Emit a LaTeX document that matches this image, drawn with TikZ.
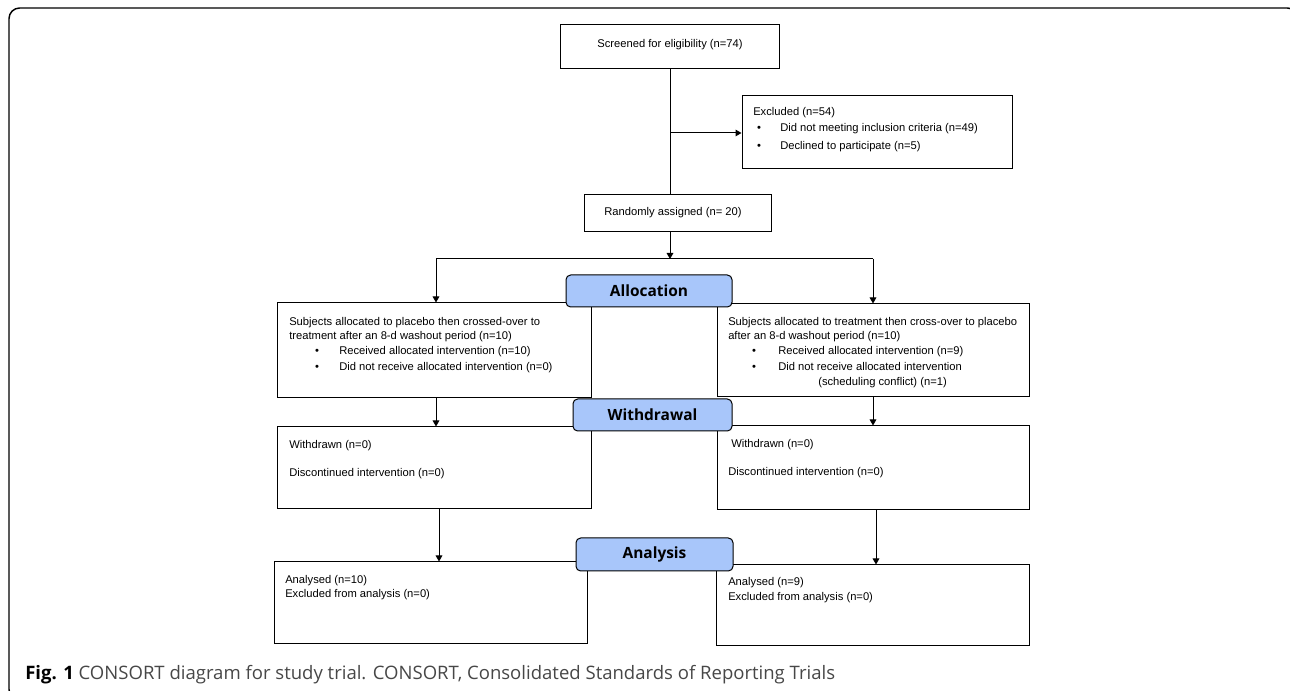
\documentclass[tikz,border=0pt]{standalone}
\usepackage{fontspec}
\setmainfont{Liberation Sans}
\newfontfamily\capfont{Open Sans}
\usetikzlibrary{arrows.meta,calc,fit}
\definecolor{labblue}{RGB}{168,198,250}
\begin{document}
\begin{tikzpicture}[x=0.75pt,y=-0.75pt,
  box/.style={draw,line width=0.75pt,inner sep=0pt,fill=white},
  txt/.style={inner sep=0pt,anchor=base west,font=\fontsize{8.4pt}{10pt}\selectfont},
  ctxt/.style={txt,anchor=base},
  bul/.style={inner sep=0pt,anchor=base,font=\fontsize{8.4pt}{10pt}\selectfont},
  lab/.style={draw,line width=0.75pt,rounded corners=3.5pt,fill=labblue,inner sep=0pt},
  labtxt/.style={inner sep=0pt,font=\capfont\bfseries\fontsize{11.6pt}{12pt}\selectfont},
  arr/.style={line width=0.75pt,-{Triangle[length=4.5pt,width=5pt]}},
  ln/.style={line width=0.75pt}]
\useasboundingbox (0,0) rectangle (1290,691);
\clip (0,0) rectangle (1290,691);
% outer frame
\draw[line width=1.1pt,rounded corners=8pt] (9,8) rectangle (1298,700);

% boxes
\node[box,fit={(560,25) (779,69)}] (scr) {};
\node[box,fit={(742,96) (1012,169)}] (exc) {};
\node[box,fit={(584,195) (771,232)}] (rnd) {};
\node[box,fit={(277,303) (591,398)}] (la) {};
\node[box,fit={(717,304) (1029,397)}] (ra) {};
\node[box,fit={(277,427) (591,509)}] (lw) {};
\node[box,fit={(717,426) (1029,510)}] (rw) {};
\node[box,fit={(274,562) (587,644)}] (lan) {};
\node[box,fit={(716,565) (1029,646)}] (ran) {};

% connector coordinates
\coordinate (split) at (670,133);
\coordinate (jn) at (670,259);
\coordinate (xl) at (436,259);
\coordinate (xr) at (873,259);
\coordinate (xl2) at (439,0);
\coordinate (xr2) at (876,0);

% connectors
\draw[ln] (scr.south -| split) -- (rnd.north -| split);
\draw[arr] (split) -- (split -| exc.west);
\draw[arr] (rnd.south -| jn) -- (jn);
\draw[ln] (xl) -- (xr);
\draw[arr] (xl) -- (xl |- la.north);
\draw[arr] (xr) -- (xr |- ra.north);
\draw[arr] (la.south -| xl) -- (lw.north -| xl);
\draw[arr] (ra.south -| xr) -- (rw.north -| xr);
\draw[arr] (lw.south -| xl2) -- (lan.north -| xl2);
\draw[arr] (rw.south -| xr2) -- (ran.north -| xr2);

% texts
\node[ctxt] (tscr) at (670,48) {Screened for eligibility (n=74)};
\node[txt] (texc) at (753,116) {Excluded (n=54)};
\node[bul] (bexc1) at (759,132) {\textbullet};
\node[txt] (texc1) at (780,132) {Did not meeting inclusion criteria (n=49)};
\node[bul] (bexc2) at (759,150) {\textbullet};
\node[txt] (texc2) at (780,150) {Declined to participate (n=5)};
\node[ctxt] (trnd) at (673,216) {Randomly assigned (n= 20)};

\node[txt] (tla1) at (289,326) {Subjects allocated to placebo then crossed-over to};
\node[txt] (tla2) at (289,340) {treatment after an 8-d washout period (n=10)};
\node[bul] (bla1) at (317,355) {\textbullet};
\node[txt] (tla3) at (339,355) {Received allocated intervention (n=10)};
\node[bul] (bla2) at (317,371) {\textbullet};
\node[txt] (tla4) at (339,371) {Did not receive allocated intervention (n=0)};

\node[txt] (tra1) at (728,326) {Subjects allocated to treatment then cross-over to placebo};
\node[txt] (tra2) at (728,340) {after an 8-d washout period (n=10)};
\node[bul] (bra1) at (754,355) {\textbullet};
\node[txt] (tra3) at (778,355) {Received allocated intervention (n=9)};
\node[bul] (bra2) at (754,371) {\textbullet};
\node[txt] (tra4) at (778,371) {Did not receive allocated intervention};
\node[txt] (tra5) at (818,386) {(scheduling conflict) (n=1)};

\node[txt] (tlw1) at (289,449) {Withdrawn (n=0)};
\node[txt] (tlw2) at (289,477) {Discontinued intervention (n=0)};
\node[txt] (trw1) at (731,448) {Withdrawn (n=0)};
\node[txt] (trw2) at (728,476) {Discontinued intervention (n=0)};

\node[txt] (tlan1) at (285,584) {Analysed (n=10)};
\node[txt] (tlan2) at (285,598) {Excluded from analysis (n=0)};
\node[txt] (tran1) at (728,586) {Analysed (n=9)};
\node[txt] (tran2) at (728,601) {Excluded from analysis (n=0)};

% stage labels
\node[lab,fit={(566,275) (732,307)}] (alloc) {};
\node[labtxt] (talloc) at (alloc.center) {Allocation};
\node[lab,fit={(573,399) (732,431)}] (withd) {};
\node[labtxt] (twithd) at (withd.center) {Withdrawal};
\node[lab,fit={(576,538) (733,571)}] (anal) {};
\node[labtxt] (tanal) at (anal.center) {Analysis};

% caption
\node[inner sep=0pt,anchor=base west,font=\capfont\fontsize{13.9pt}{15pt}\selectfont,text=black!72] (cap) at (25,679)
  {\textcolor{black}{\bfseries Fig. 1} CONSORT diagram for study trial. CONSORT, Consolidated Standards of Reporting Trials};
\end{tikzpicture}
\end{document}
